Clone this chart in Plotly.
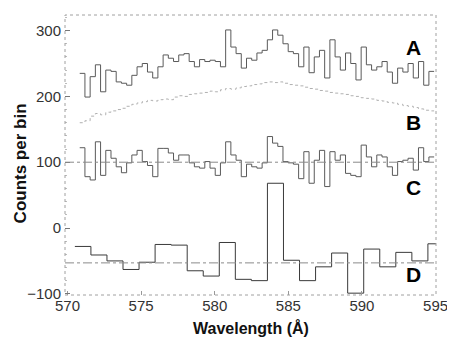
import plotly.graph_objects as go

# ---- data ----
# fine-binned spectrum A (raw counts), background model B, residual C (offset to 100)
fine_start = 570.83      # wavelength of first fine-bin left edge (A)
fine_width = 0.354       # fine bin width (Angstrom)
A_counts = [235, 199, 230, 248, 207, 240, 238, 222, 220, 217,
            232, 245, 250, 237, 228, 245, 263, 258, 253, 263,
            265, 253, 245, 256, 253, 255, 253, 245, 301, 275,
            265, 243, 258, 255, 266, 270, 286, 301, 293, 280,
            268, 265, 245, 275, 236, 260, 270, 228, 286, 260,
            240, 266, 250, 225, 275, 248, 240, 245, 253, 237,
            220, 243, 237, 250, 228, 253, 217, 238]
B_model = [160, 163, 170, 174, 172, 176, 178, 180, 182, 185,
           188, 190, 192, 194, 193, 195, 196, 195, 199, 201,
           200, 203, 204, 205, 206, 208, 207, 210, 212, 211,
           213, 215, 216, 218, 219, 221, 222, 221, 222, 220,
           218, 217, 216, 214, 212, 211, 209, 208, 206, 205,
           204, 203, 201, 200, 198, 197, 196, 194, 193, 191,
           190, 188, 186, 185, 183, 181, 179, 178]
C_resid = [122, 78, 73, 131, 80, 118, 106, 93, 84, 99,
           111, 118, 101, 95, 78, 121, 121, 114, 103, 111,
           111, 99, 93, 91, 101, 91, 80, 99, 131, 111,
           103, 78, 97, 93, 91, 99, 139, 129, 124, 101,
           99, 97, 75, 116, 68, 103, 118, 63, 116, 103,
           111, 83, 80, 78, 126, 108, 93, 111, 108, 93,
           80, 101, 103, 106, 88, 122, 101, 108]
# coarse-binned residual D
coarse_start = 570.5
coarse_width = 1.09
D_resid = [-28, -41, -50, -63, -52, -25, -26, -65, -73, -22,
           -78, -80, 68, -49, -80, -59, -38, -99, -32, -59,
           -37, -50, -24]
C_BASE = 100
D_BASE = -53
x_ticks = [570, 575, 580, 585, 590, 595]
y_ticks = [-100, 0, 100, 200, 300]
labels = [("A", 275), ("B", 160), ("C", 61), ("D", -71)]


def step_xy(start, width, vals):
    xs = [start + width * i for i in range(len(vals) + 1)]
    ys = list(vals) + [vals[-1]]
    return xs, ys


FONT = "Liberation Sans, Arial, sans-serif"
fig = go.Figure()

xa, ya = step_xy(fine_start, fine_width, A_counts)
xb, yb = step_xy(fine_start, fine_width, B_model)
xc, yc = step_xy(fine_start, fine_width, C_resid)
xd, yd = step_xy(coarse_start, coarse_width, D_resid)

fig.add_hline(y=C_BASE, line=dict(color="#8a8a8a", width=1, dash="dashdot"))
fig.add_hline(y=D_BASE, line=dict(color="#8a8a8a", width=1, dash="dashdot"))

fig.add_trace(go.Scatter(x=xb, y=yb, mode="lines", line_shape="hv",
                         line=dict(color="#b0b0b0", width=1, dash="dot"),
                         showlegend=False, hoverinfo="skip"))
fig.add_trace(go.Scatter(x=xa, y=ya, mode="lines", line_shape="hv",
                         line=dict(color="#5a5a5a", width=1),
                         showlegend=False))
fig.add_trace(go.Scatter(x=xc, y=yc, mode="lines", line_shape="hv",
                         line=dict(color="#5a5a5a", width=1),
                         showlegend=False))
fig.add_trace(go.Scatter(x=xd, y=yd, mode="lines", line_shape="hv",
                         line=dict(color="#3a3a3a", width=1),
                         showlegend=False))

for txt, yv in labels:
    fig.add_annotation(x=593.47, y=yv, text="<b>" + txt + "</b>", showarrow=False,
                       font=dict(family=FONT, size=21, color="#000"),
                       xanchor="center", yanchor="middle")

fig.add_annotation(xref="paper", yref="paper", x=0.5, y=0, yshift=-44,
                   text="<b>Wavelength (Å)</b>", showarrow=False,
                   font=dict(family=FONT, size=16, color="#111"),
                   xanchor="center", yanchor="bottom")
fig.add_annotation(xref="paper", x=0, xshift=-45, yref="paper", y=0.47,
                   text="<b>Counts per bin</b>", showarrow=False, textangle=-90,
                   font=dict(family=FONT, size=17, color="#111"),
                   xanchor="center", yanchor="middle")

fig.add_shape(type="rect", xref="paper", yref="paper", x0=0, y0=0, x1=1, y1=1,
              line=dict(color="#a0a0a0", width=1, dash="dot"))

# the page adds an 8px body margin, so the figure is 8px smaller on each axis
fig.update_layout(
    width=447, height=331,
    margin=dict(l=57, r=13, t=7, b=44),
    paper_bgcolor="white", plot_bgcolor="white",
    font=dict(family=FONT, size=15, color="#333"),
)
fig.update_xaxes(range=[569.83, 595.03], tickvals=x_ticks, ticks="inside",
                 ticklen=4, tickcolor="#999", showgrid=False, zeroline=False,
                 showline=False, tickfont=dict(size=15, color="#333"),
                 ticklabelstandoff=0)
fig.update_yaxes(range=[-101.8, 323.7], tickvals=y_ticks, ticks="inside",
                 ticklen=5, tickcolor="#777", showgrid=False, zeroline=False,
                 showline=False, tickfont=dict(size=15, color="#333"),
                 ticklabelstandoff=3,
                 minor=dict(ticks="inside", ticklen=2, tickcolor="#bbb", dtick=20))

fig.write_html("out.html")
